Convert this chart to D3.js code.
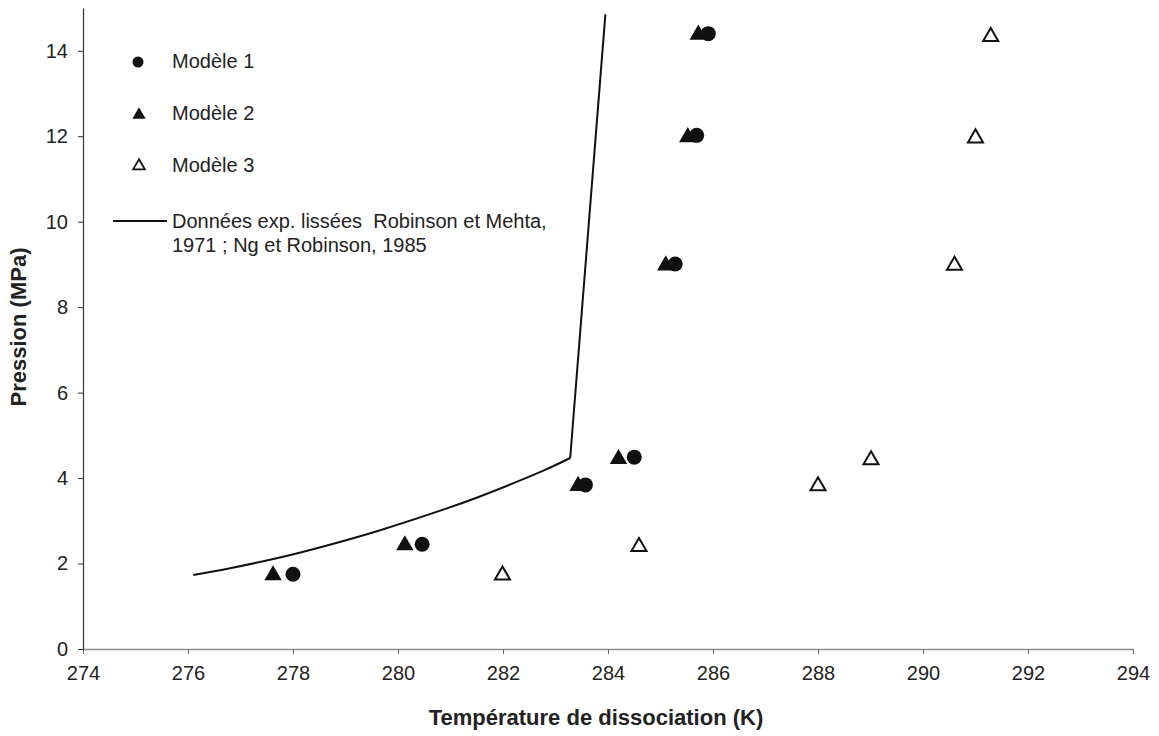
<!DOCTYPE html>
<html><head><meta charset="utf-8">
<script src="https://cdn.jsdelivr.net/npm/d3@7"></script>
<style>body{margin:0;background:#fff;} svg{display:block;font-family:"Liberation Sans",Arial,sans-serif;} text{white-space:pre;}</style>
</head><body>
<svg id="c" width="1159" height="736"></svg>
<script>
const xTicks = [274,276,278,280,282,284,286,288,290,292,294];
const yTicks = [0,2,4,6,8,10,12,14];
const modele1 = [[278.0,1.75],[280.46,2.45],[283.57,3.84],[284.5,4.49],[285.28,9.01],[285.69,12.02],[285.91,14.4]];
const modele2 = [[277.62,1.75],[280.13,2.45],[283.43,3.84],[284.2,4.47],[285.1,9.0],[285.52,12.0],[285.72,14.4]];
const modele3 = [[281.99,1.75],[284.59,2.42],[288.0,3.84],[289.01,4.45],[290.6,9.0],[291.0,11.98],[291.29,14.35]];
const expCurve = [[276.1,1.73],[276.8,1.89],[277.75,2.14],[278.7,2.44],[279.66,2.78],[280.93,3.29],[281.56,3.57],[282.2,3.88],[282.8,4.19],[283.28,4.47]];
const expVertical = [[283.28,4.47],[283.95,14.85]];
const legendLabels = ["Modèle 1","Modèle 2","Modèle 3"];
const expLabel = ["Données exp. lissées  Robinson et Mehta,","1971 ; Ng et Robinson, 1985"];

const svg = d3.select("#c");
const x = d3.scaleLinear().domain([274,294]).range([83,1133]);
const y = d3.scaleLinear().domain([0,15]).range([649,8]);

// axes
const xa = svg.append("g").attr("transform","translate(0,649)")
  .call(d3.axisBottom(x).tickValues(xTicks).tickSize(5).tickSizeOuter(0).tickPadding(12));
xa.select(".domain").attr("stroke","#8a8a8a").attr("stroke-width",1.3);
xa.selectAll(".tick line").attr("stroke","#666");
xa.selectAll("text").attr("font-size",20).attr("fill","#222");

const ya = svg.append("g").attr("transform","translate(83,0)")
  .call(d3.axisLeft(y).tickValues(yTicks).tickSize(5).tickSizeOuter(0).tickPadding(10));
ya.select(".domain").attr("stroke","#333").attr("stroke-width",1.2);
ya.selectAll(".tick line").attr("stroke","#333");
ya.selectAll("text").attr("font-size",20).attr("fill","#222");

// axis titles
svg.append("text").attr("x",596).attr("y",725).attr("text-anchor","middle")
  .attr("font-size",22).attr("font-weight","bold").attr("fill","#222").text("Température de dissociation (K)");
svg.append("text").attr("transform","translate(26,327) rotate(-90)").attr("text-anchor","middle")
  .attr("font-size",22).attr("font-weight","bold").attr("fill","#222").text("Pression (MPa)");

// exp line
svg.append("path").datum(expCurve).attr("d",d3.line().x(d=>x(d[0])).y(d=>y(d[1])).curve(d3.curveCatmullRom))
  .attr("fill","none").attr("stroke","#111").attr("stroke-width",2);
svg.append("path").datum(expVertical).attr("d",d3.line().x(d=>x(d[0])).y(d=>y(d[1])))
  .attr("fill","none").attr("stroke","#111").attr("stroke-width",2);

const tri = d3.symbol().type(d3.symbolTriangle).size(132);
const triOpen = d3.symbol().type(d3.symbolTriangle).size(98);

// modele 2 filled triangles
svg.append("g").selectAll("path").data(modele2).join("path")
  .attr("d",tri).attr("transform",d=>`translate(${x(d[0])},${y(d[1])+1})`).attr("fill","#111");
// modele 1 circles
svg.append("g").selectAll("circle").data(modele1).join("circle")
  .attr("cx",d=>x(d[0])).attr("cy",d=>y(d[1])).attr("r",7.5).attr("fill","#111");
// modele 3 open triangles
svg.append("g").selectAll("path").data(modele3).join("path")
  .attr("d",triOpen).attr("transform",d=>`translate(${x(d[0])},${y(d[1])+1})`)
  .attr("fill","#fff").attr("stroke","#111").attr("stroke-width",2);

// legend
const lg = svg.append("g");
lg.append("circle").attr("cx",138).attr("cy",62).attr("r",5.5).attr("fill","#111");
lg.append("path").attr("d",d3.symbol().type(d3.symbolTriangle).size(78)).attr("transform","translate(139,115)").attr("fill","#111");
lg.append("path").attr("d",d3.symbol().type(d3.symbolTriangle).size(60)).attr("transform","translate(139,166)")
  .attr("fill","#fff").attr("stroke","#111").attr("stroke-width",1.8);
[61,113,165].forEach((yy,i)=>{
  lg.append("text").attr("x",172).attr("y",yy).attr("dy","0.35em").attr("font-size",20).attr("fill","#222").text(legendLabels[i]);
});
lg.append("line").attr("x1",113).attr("x2",167).attr("y1",221).attr("y2",221).attr("stroke","#111").attr("stroke-width",1.8);
expLabel.forEach((t,i)=>{
  lg.append("text").attr("x",172).attr("y",221+i*24).attr("dy","0.35em").attr("font-size",20).attr("fill","#222").text(t);
});
</script>
</body></html>
